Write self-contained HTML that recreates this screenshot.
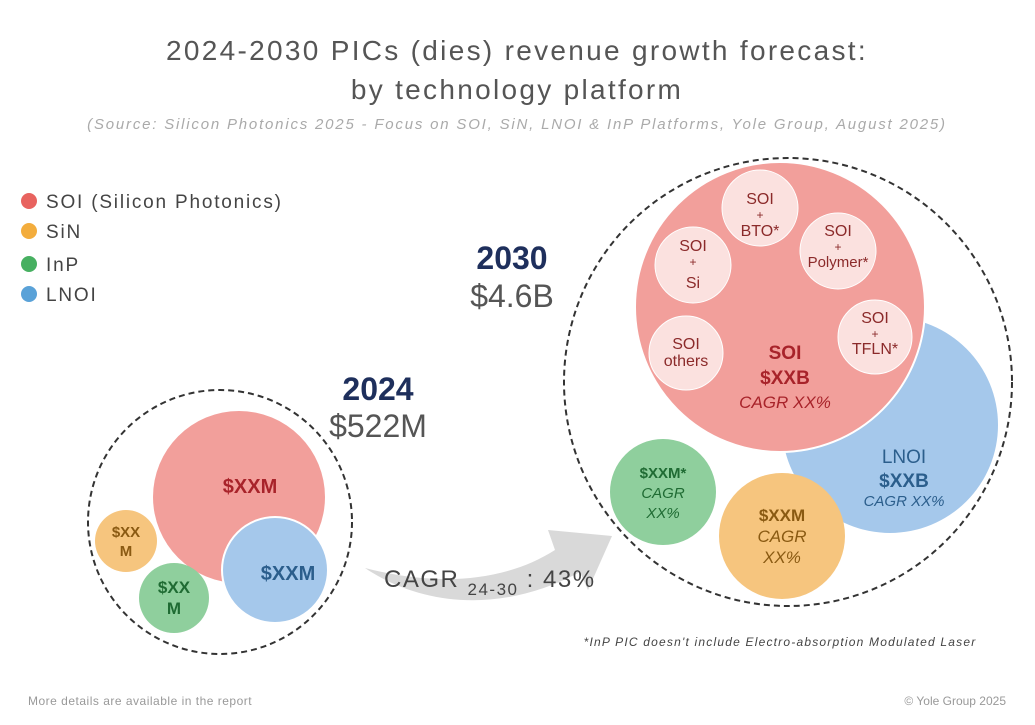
<!DOCTYPE html>
<html><head><meta charset="utf-8"><style>
html,body{margin:0;padding:0;background:#fff;width:1035px;height:725px;overflow:hidden}
svg{display:block;font-family:"Liberation Sans",sans-serif}
</style></head><body>
<svg width="1035" height="725" viewBox="0 0 1035 725">
<text x="517" y="60" text-anchor="middle" font-size="28" fill="#555" letter-spacing="2.3">2024-2030 PICs (dies) revenue growth forecast:</text>
<text x="517" y="99" text-anchor="middle" font-size="28" fill="#555" letter-spacing="2.3">by technology platform</text>
<text x="517" y="129" text-anchor="middle" font-size="15" font-style="italic" fill="#aaa" letter-spacing="1.8">(Source: Silicon Photonics 2025 - Focus on SOI, SiN, LNOI &amp; InP Platforms, Yole Group, August 2025)</text>
<g font-size="19" fill="#444" letter-spacing="1.8">
<circle cx="29" cy="201" r="8" fill="#e8635f"/><text x="46" y="208">SOI (Silicon Photonics)</text>
<circle cx="29" cy="231" r="8" fill="#f3ad3d"/><text x="46" y="238">SiN</text>
<circle cx="29" cy="264" r="8" fill="#47b061"/><text x="46" y="271">InP</text>
<circle cx="29" cy="294" r="8" fill="#5aa2d8"/><text x="46" y="301">LNOI</text>
</g>
<!-- arrow -->
<path d="M365,568 C430,585 500,585 555,550 L548,530 L612,536 L588,590 L580,572 C500,615 420,605 365,568Z" fill="#d9d9d9"/>
<!-- 2024 -->
<circle cx="220" cy="522" r="132" fill="none" stroke="#333" stroke-width="2" stroke-dasharray="6,4"/>
<circle cx="239" cy="497" r="86" fill="#f29f9b"/>
<circle cx="275" cy="570" r="53" fill="#a5c8eb" stroke="#fff" stroke-width="2"/>
<circle cx="126" cy="541" r="31" fill="#f6c57e"/>
<circle cx="174" cy="598" r="35" fill="#8fcf9d"/>
<g font-weight="bold" text-anchor="middle">
<text x="250" y="493" font-size="20" fill="#a8232a">$XXM</text>
<text x="288" y="580" font-size="20" fill="#2b5e8c">$XXM</text>
<text x="126" y="537" font-size="15" fill="#8a5a12">$XX</text>
<text x="126" y="556" font-size="15" fill="#8a5a12">M</text>
<text x="174" y="593" font-size="17" fill="#1f6b33">$XX</text>
<text x="174" y="614" font-size="17" fill="#1f6b33">M</text>
</g>
<text x="378" y="400" text-anchor="middle" font-size="32" font-weight="bold" fill="#1e2f5c">2024</text>
<text x="378" y="437" text-anchor="middle" font-size="32" fill="#555">$522M</text>
<text x="384" y="587" font-size="24" fill="#444" letter-spacing="1.5">CAGR <tspan font-size="17" dy="8">24-30</tspan><tspan dy="-8"> : 43%</tspan></text>
<!-- 2030 -->
<circle cx="788" cy="382" r="224" fill="none" stroke="#333" stroke-width="2" stroke-dasharray="6,4"/>
<circle cx="890" cy="425" r="108" fill="#a5c8eb"/>
<circle cx="780" cy="307" r="145" fill="#f29f9b" stroke="#fff" stroke-width="2"/>
<circle cx="663" cy="492" r="53" fill="#8fcf9d"/>
<circle cx="782" cy="536" r="63" fill="#f6c57e"/>
<g fill="#fbe1df" stroke="#fff" stroke-width="1">
<circle cx="760" cy="208" r="38"/><circle cx="838" cy="251" r="38"/><circle cx="693" cy="265" r="38"/><circle cx="686" cy="353" r="37"/><circle cx="875" cy="337" r="37"/>
</g>
<g text-anchor="middle" fill="#8b2a2a" font-size="16">
<text x="760" y="204">SOI</text><text x="760" y="219" font-size="12">+</text><text x="760" y="236">BTO*</text>
<text x="838" y="236">SOI</text><text x="838" y="251" font-size="12">+</text><text x="838" y="267" font-size="15">Polymer*</text>
<text x="693" y="251">SOI</text><text x="693" y="266" font-size="12">+</text><text x="693" y="288">Si</text>
<text x="686" y="349">SOI</text><text x="686" y="366">others</text>
<text x="875" y="323">SOI</text><text x="875" y="338" font-size="12">+</text><text x="875" y="354">TFLN*</text>
</g>
<g text-anchor="middle">
<text x="785" y="359" font-size="19" font-weight="bold" fill="#a8232a">SOI</text>
<text x="785" y="384" font-size="19" font-weight="bold" fill="#a8232a">$XXB</text>
<text x="785" y="408" font-size="17" font-style="italic" fill="#a8232a">CAGR XX%</text>
<text x="904" y="463" font-size="19" fill="#2b5e8c">LNOI</text>
<text x="904" y="487" font-size="19" font-weight="bold" fill="#2b5e8c">$XXB</text>
<text x="904" y="506" font-size="15" font-style="italic" fill="#2b5e8c">CAGR XX%</text>
<text x="663" y="478" font-size="15" font-weight="bold" fill="#1f6b33">$XXM*</text>
<text x="663" y="498" font-size="15" font-style="italic" fill="#1f6b33">CAGR</text>
<text x="663" y="518" font-size="15" font-style="italic" fill="#1f6b33">XX%</text>
<text x="782" y="521" font-size="17" font-weight="bold" fill="#8a5a12">$XXM</text>
<text x="782" y="542" font-size="17" font-style="italic" fill="#8a5a12">CAGR</text>
<text x="782" y="563" font-size="17" font-style="italic" fill="#8a5a12">XX%</text>
</g>
<text x="512" y="269" text-anchor="middle" font-size="32" font-weight="bold" fill="#1e2f5c">2030</text>
<text x="512" y="307" text-anchor="middle" font-size="32" fill="#555">$4.6B</text>
<text x="780" y="646" text-anchor="middle" font-size="12" font-style="italic" fill="#444" letter-spacing="1.2">*InP PIC doesn't include Electro-absorption Modulated Laser</text>
<text x="28" y="705" font-size="12" fill="#999" letter-spacing="0.5">More details are available in the report</text>
<text x="1006" y="705" text-anchor="end" font-size="12" fill="#999">© Yole Group 2025</text>
</svg>
</body></html>
